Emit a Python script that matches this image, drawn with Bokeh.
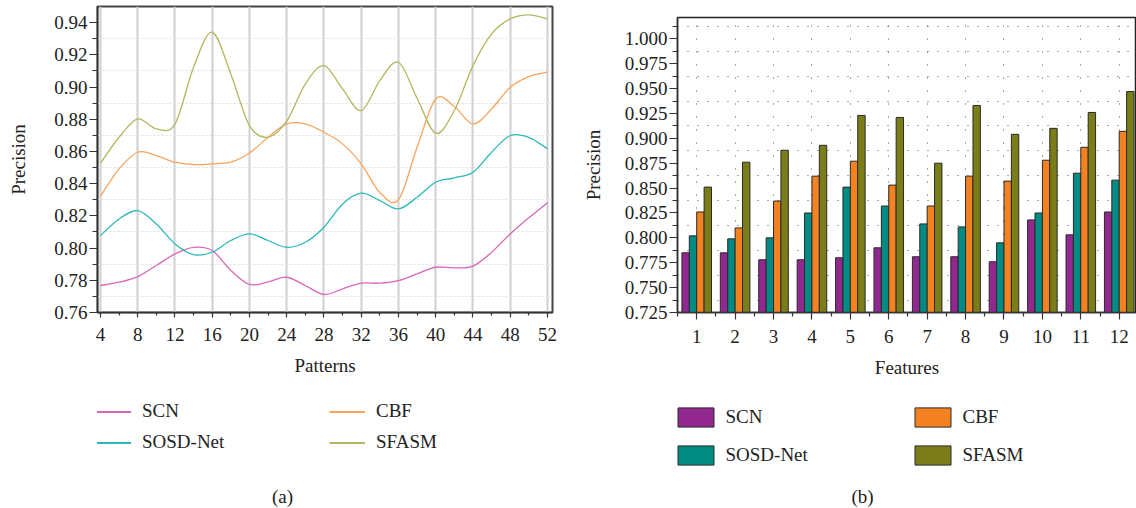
from bokeh.plotting import figure
from bokeh.layouts import row, column
from bokeh.models import (ColumnDataSource, FixedTicker, PrintfTickFormatter, Legend,
                          LegendItem, Label, Range1d)
from bokeh.transform import dodge
from bokeh.embed import file_html
from bokeh.resources import INLINE

FONT = "Liberation Serif"
FS = "19px"
NAN = float("nan")

# ---------------- panel (a) data ----------------
patterns = [4, 6, 8, 10, 12, 14, 16, 18, 20, 22, 24, 26, 28, 30, 32, 34, 36, 38, 40, 42, 44, 46, 48, 50, 52]
scn_a = [0.7767, 0.7788, 0.7823, 0.7892, 0.7964, 0.8005, 0.7985, 0.7861, 0.7774, 0.7790, 0.7819, 0.7767,
         0.7712, 0.7747, 0.7782, 0.7782, 0.7798, 0.7840, 0.7881, 0.7877, 0.7888, 0.7974, 0.8088, 0.8188, 0.8281]
sosd_a = [0.8078, 0.8181, 0.8233, 0.8150, 0.8026, 0.7960, 0.7974, 0.8047, 0.8088, 0.8047, 0.8005, 0.8036,
          0.8129, 0.8274, 0.8341, 0.8295, 0.8243, 0.8316, 0.8409, 0.8436, 0.8471, 0.8595, 0.8699, 0.8688, 0.8616]
cbf_a = [0.8322, 0.8492, 0.8595, 0.8574, 0.8533, 0.8519, 0.8523, 0.8533, 0.8590, 0.8688, 0.8771, 0.8771,
         0.8719, 0.8647, 0.8523, 0.8345, 0.8300, 0.8626, 0.8926, 0.8879, 0.8771, 0.8864, 0.8999, 0.9065, 0.9092]
sfasm_a = [0.8527, 0.8688, 0.8802, 0.8740, 0.8770, 0.9123, 0.9340, 0.9080, 0.8760, 0.8688, 0.8788, 0.9019,
           0.9133, 0.8988, 0.8854, 0.9040, 0.9154, 0.8930, 0.8713, 0.8854, 0.9133, 0.9330, 0.9423, 0.9448, 0.9423]
pattern_ticks = [4, 8, 12, 16, 20, 24, 28, 32, 36, 40, 44, 48, 52]
pattern_minor = [6, 10, 14, 18, 22, 26, 30, 34, 38, 42, 46, 50]
prec_ticks_a = [0.76, 0.78, 0.80, 0.82, 0.84, 0.86, 0.88, 0.90, 0.92, 0.94]
prec_minor_a = [0.77, 0.79, 0.81, 0.83, 0.85, 0.87, 0.89, 0.91, 0.93]

# ---------------- panel (b) data ----------------
features = [1, 2, 3, 4, 5, 6, 7, 8, 9, 10, 11, 12]
scn_b = [0.785, 0.785, 0.778, 0.778, 0.780, 0.790, 0.781, 0.781, 0.776, 0.818, 0.803, 0.826]
sosd_b = [0.802, 0.799, 0.800, 0.825, 0.851, 0.832, 0.814, 0.811, 0.795, 0.825, 0.865, 0.858]
cbf_b = [0.826, 0.810, 0.837, 0.862, 0.877, 0.853, 0.832, 0.862, 0.857, 0.878, 0.891, 0.907]
sfasm_b = [0.851, 0.876, 0.888, 0.893, 0.923, 0.921, 0.875, 0.933, 0.904, 0.910, 0.926, 0.947]
feature_minor = [0.5, 1.5, 2.5, 3.5, 4.5, 5.5, 6.5, 7.5, 8.5, 9.5, 10.5, 11.5, 12.5]
prec_ticks_b = [0.725, 0.750, 0.775, 0.800, 0.825, 0.850, 0.875, 0.900, 0.925, 0.950, 0.975, 1.000]
prec_minor_b = [0.7375, 0.7625, 0.7875, 0.8125, 0.8375, 0.8625, 0.8875, 0.9125, 0.9375, 0.9625, 0.9875, 1.0125]

series_names = ["SCN", "SOSD-Net", "CBF", "SFASM"]
line_colors = ["#d966b8", "#2ab8bc", "#f8a45e", "#b3b65e"]
bar_colors = ["#92278f", "#008b84", "#f58220", "#7b7e18"]


def smooth_source(xs, ys):
    """Catmull-Rom control points so the curve passes through every read value."""
    n = len(xs)
    d = dict(x0=[], y0=[], x1=[], y1=[], cx0=[], cy0=[], cx1=[], cy1=[])
    for i in range(n - 1):
        xm, ym = (xs[i - 1], ys[i - 1]) if i > 0 else (xs[i], ys[i])
        xp, yp = (xs[i + 2], ys[i + 2]) if i + 2 < n else (xs[i + 1], ys[i + 1])
        d["x0"].append(xs[i]); d["y0"].append(ys[i])
        d["x1"].append(xs[i + 1]); d["y1"].append(ys[i + 1])
        d["cx0"].append(xs[i] + (xs[i + 1] - xm) / 6.0)
        d["cy0"].append(ys[i] + (ys[i + 1] - ym) / 6.0)
        d["cx1"].append(xs[i + 1] - (xp - xs[i]) / 6.0)
        d["cy1"].append(ys[i + 1] - (yp - ys[i]) / 6.0)
    return ColumnDataSource(d)


def style_axes(p):
    for ax in (p.xaxis[0], p.yaxis[0]):
        ax.major_label_text_font = FONT
        ax.major_label_text_font_size = FS
        ax.major_label_text_color = "#222222"
        ax.axis_label_text_font = FONT
        ax.axis_label_text_font_size = FS
        ax.axis_label_text_font_style = "normal"
        ax.axis_label_text_color = "#222222"
        ax.axis_line_color = "#333333"
        ax.axis_line_width = 1.5
        ax.major_tick_line_color = "#333333"
        ax.minor_tick_line_color = "#333333"
        ax.major_tick_line_width = 1.2
        ax.minor_tick_line_width = 1.2
        ax.major_tick_in = 0
        ax.minor_tick_in = 0


def legend_figure(width):
    f = figure(width=width, height=113, x_range=Range1d(0, 1), y_range=Range1d(0, 1),
               x_axis_type=None, y_axis_type=None, output_backend="svg", toolbar_location=None,
               min_border_left=0, min_border_right=0, min_border_top=0, min_border_bottom=0)
    f.outline_line_color = None
    f.xgrid.visible = False
    f.ygrid.visible = False
    return f


def caption(text, x):
    return Label(x=x, y=12, x_units="screen", y_units="screen", text=text,
                 text_align="center", text_baseline="middle", text_font=FONT,
                 text_font_size=FS, text_color="#222222")


# ---------------- panel (a) ----------------
pa = figure(width=570, height=395, x_range=Range1d(3.68, 52.54), y_range=Range1d(0.76, 0.95),
            output_backend="svg", toolbar_location=None,
            min_border_left=97, min_border_right=18, min_border_top=6, min_border_bottom=83)
pa.outline_line_color = "#444444"
pa.outline_line_width = 2

pa.xaxis.ticker = FixedTicker(ticks=pattern_ticks, minor_ticks=pattern_minor)
pa.yaxis.ticker = FixedTicker(ticks=prec_ticks_a, minor_ticks=prec_minor_a)
pa.yaxis.formatter = PrintfTickFormatter(format="%.2f")
pa.xaxis.axis_label = "Patterns"
pa.yaxis.axis_label = "Precision"
style_axes(pa)
pa.xaxis.major_tick_out = 5
pa.xaxis.minor_tick_out = 3
pa.yaxis.major_tick_out = 8
pa.yaxis.minor_tick_out = 5
pa.xaxis.major_label_standoff = 10
pa.xaxis.axis_label_standoff = 11
pa.yaxis.major_label_standoff = 2
pa.yaxis.axis_label_standoff = 22

pa.xgrid.grid_line_color = "#cfcfcf"
pa.xgrid.grid_line_width = 2
pa.ygrid.grid_line_color = None
pa.ygrid.minor_grid_line_color = "#dedede"
pa.ygrid.minor_grid_line_dash = "2 2"
pa.ygrid.minor_grid_line_width = 1

for ys, col in zip([scn_a, sosd_a, cbf_a, sfasm_a], line_colors):
    pa.bezier(x0="x0", y0="y0", x1="x1", y1="y1", cx0="cx0", cy0="cy0", cx1="cx1", cy1="cy1",
              source=smooth_source(patterns, ys), line_color=col, line_width=1.3)

# legend + caption of (a)
la = legend_figure(570)
items_a = []
for name, col in zip(series_names, line_colors):
    r = la.line(x=[NAN], y=[NAN], line_color=col, line_width=2)
    items_a.append(LegendItem(label=name, renderers=[r]))
la.add_layout(Legend(items=items_a, location=(-2, 54.5), ncols=2, orientation="vertical",
                     glyph_width=36, glyph_height=23, label_height=23, label_width=179,
                     label_standoff=11, spacing=8, padding=0, margin=0,
                     border_line_alpha=0, background_fill_alpha=0,
                     label_text_font=FONT, label_text_font_size=FS, label_text_color="#222222"))
la.add_layout(caption("(a)", 185))

# ---------------- panel (b) ----------------
pb = figure(width=566, height=395, x_range=Range1d(0.5, 12.45), y_range=Range1d(0.725, 1.0214),
            output_backend="svg", toolbar_location=None,
            min_border_left=107, min_border_right=0, min_border_top=17, min_border_bottom=83)
pb.outline_line_color = "#222222"
pb.outline_line_width = 1.5
pb.xaxis.ticker = FixedTicker(ticks=features, minor_ticks=feature_minor)
pb.yaxis.ticker = FixedTicker(ticks=prec_ticks_b, minor_ticks=prec_minor_b)
pb.yaxis.formatter = PrintfTickFormatter(format="%.3f")
pb.xaxis.axis_label = "Features"
pb.yaxis.axis_label = "Precision"
style_axes(pb)
pb.xaxis.major_tick_out = 7
pb.xaxis.minor_tick_out = 4
pb.yaxis.major_tick_out = 8
pb.yaxis.minor_tick_out = 5
pb.xaxis.major_label_standoff = 10
pb.xaxis.axis_label_standoff = 11
pb.yaxis.major_label_standoff = 2
pb.yaxis.axis_label_standoff = 18

pb.xgrid.grid_line_color = "#555555"
pb.xgrid.grid_line_dash = "1 12"
pb.xgrid.grid_line_width = 1
pb.ygrid.grid_line_color = None
pb.ygrid.minor_grid_line_color = "#555555"
pb.ygrid.minor_grid_line_dash = "1 9"
pb.ygrid.minor_grid_line_width = 1

src_b = ColumnDataSource(dict(feature=features, scn=scn_b, sosd=sosd_b, cbf=cbf_b, sfasm=sfasm_b))
bw = 0.1925
offsets = [-1.5 * bw, -0.5 * bw, 0.5 * bw, 1.5 * bw]
for field, col, off in zip(["scn", "sosd", "cbf", "sfasm"], bar_colors, offsets):
    pb.vbar(x=dodge("feature", off), top=field, bottom=0.7, width=bw, source=src_b,
            fill_color=col, line_color="#2a2a2a", line_width=1)

# legend + caption of (b)
lb = legend_figure(566)
items_b = []
for name, col in zip(series_names, bar_colors):
    r = lb.vbar(x=[NAN], top=[NAN], width=0.1, fill_color=col, line_color="#2a2a2a", line_width=1)
    items_b.append(LegendItem(label=name, renderers=[r]))
lb.add_layout(Legend(items=items_b, location=(-4.5, 41.5), ncols=2, orientation="vertical",
                     glyph_width=45, glyph_height=24, label_height=24, label_width=170,
                     label_standoff=8, spacing=14, padding=0, margin=0,
                     border_line_alpha=0, background_fill_alpha=0,
                     label_text_font=FONT, label_text_font_size=FS, label_text_color="#222222"))
lb.add_layout(caption("(b)", 185))

layout = row(column(pa, la), column(pb, lb))
open("out.html", "w").write(file_html(layout, INLINE))
